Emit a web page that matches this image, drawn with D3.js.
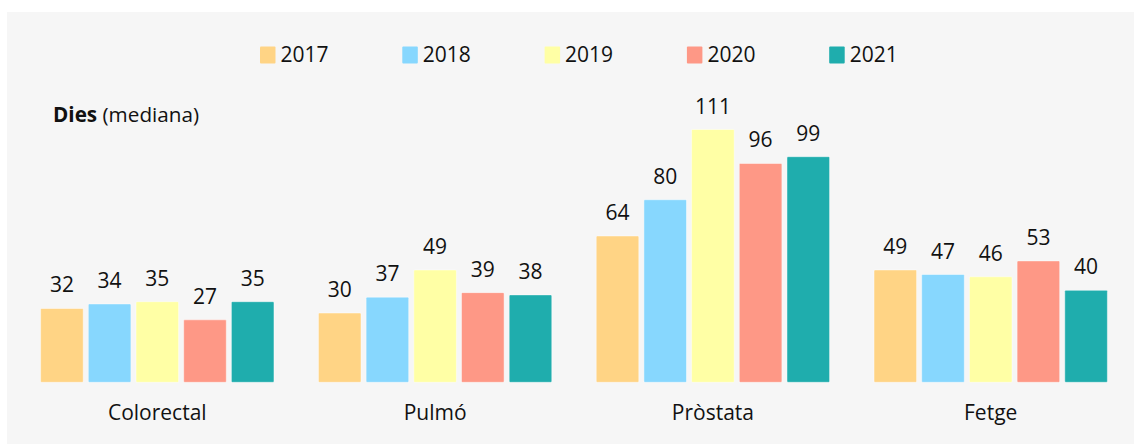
<!DOCTYPE html>
<html>
<head>
<meta charset="utf-8">
<script src="https://cdn.jsdelivr.net/npm/d3@7"></script>
<style>
    html, body { margin: 0; padding: 0; background: #ffffff; }
    svg { display: block; font-family: "Open Sans", sans-serif; }
</style>
</head>
<body>
<svg id="chart" width="1134" height="444"></svg>
<script>
const categories = ["Colorectal", "Pulmó", "Pròstata", "Fetge"];
const years = ["2017", "2018", "2019", "2020", "2021"];
const colors = ["#ffd485", "#87d7fe", "#ffffa5", "#fe9886", "#1fadad"];

// mediana de dies, per any
const v2017 = [32, 30, 64, 49];
const v2018 = [34, 37, 80, 47];
const v2019 = [35, 49, 111, 46];
const v2020 = [27, 39, 96, 53];
const v2021 = [35, 38, 99, 40];
const series = [v2017, v2018, v2019, v2020, v2021];

const width = 1134;
const height = 444;

const svg = d3.select("#chart");

// panel de fons
svg.append("rect").attr("x", 7).attr("y", 12).attr("width", width - 7).attr("height", height - 12).attr("fill", "#f6f6f6");

const x0 = d3.scaleBand().domain(categories).range([18.4, 1129.6]).paddingInner(0.16).paddingOuter(0.08);
const x1 = d3.scaleBand().domain(years).range([0, x0.bandwidth()]).paddingInner(0.107);
const y = d3.scaleLinear().domain([0, 111]).range([381, 129.5]);

const rows = [];
categories.forEach((c, ci) => {
    years.forEach((yr, yi) => {
        rows.push({ cat: c, year: yr, value: series[yi][ci], color: colors[yi] });
    });
});

const g = svg.append("g");

g.selectAll("rect.bar").data(rows).join("rect").attr("class", "bar")
    .attr("x", d => x0(d.cat) + x1(d.year))
    .attr("y", d => y(d.value))
    .attr("width", x1.bandwidth())
    .attr("height", d => y(0) + 1.3 - y(d.value))
    .attr("rx", 1)
    .attr("fill", d => d.color)
    .attr("stroke", "rgba(255,255,255,0.45)")
    .attr("stroke-width", 1);

g.selectAll("text.val").data(rows).join("text").attr("class", "val")
    .attr("x", d => x0(d.cat) + x1(d.year) + x1.bandwidth() / 2)
    .attr("y", d => y(d.value) - 16)
    .attr("text-anchor", "middle")
    .attr("font-size", "21px")
    .attr("fill", "#111")
    .text(d => d.value);

g.selectAll("text.cat").data(categories).join("text").attr("class", "cat")
    .attr("x", d => x0(d) + x0.bandwidth() / 2)
    .attr("y", 420)
    .attr("text-anchor", "middle")
    .attr("font-size", "21px")
    .attr("fill", "#111")
    .text(d => d);

// títol de l'eix
const title = svg.append("text").attr("x", 53).attr("y", 122).attr("font-size", "20.7px").attr("fill", "#111");
title.append("tspan").attr("font-weight", "bold").text("Dies");
title.append("tspan").text(" (mediana)");

// llegenda
const legend = svg.append("g").selectAll("g").data(years).join("g")
    .attr("transform", (d, i) => `translate(${260 + i * 142.3},0)`);
legend.append("rect").attr("x", 0).attr("y", 46.5).attr("width", 15.5).attr("height", 17).attr("rx", 1)
    .attr("fill", (d, i) => colors[i]);
legend.append("text").attr("x", 20.5).attr("y", 62).attr("font-size", "21px").attr("fill", "#111").text(d => d);
</script>
</body>
</html>
